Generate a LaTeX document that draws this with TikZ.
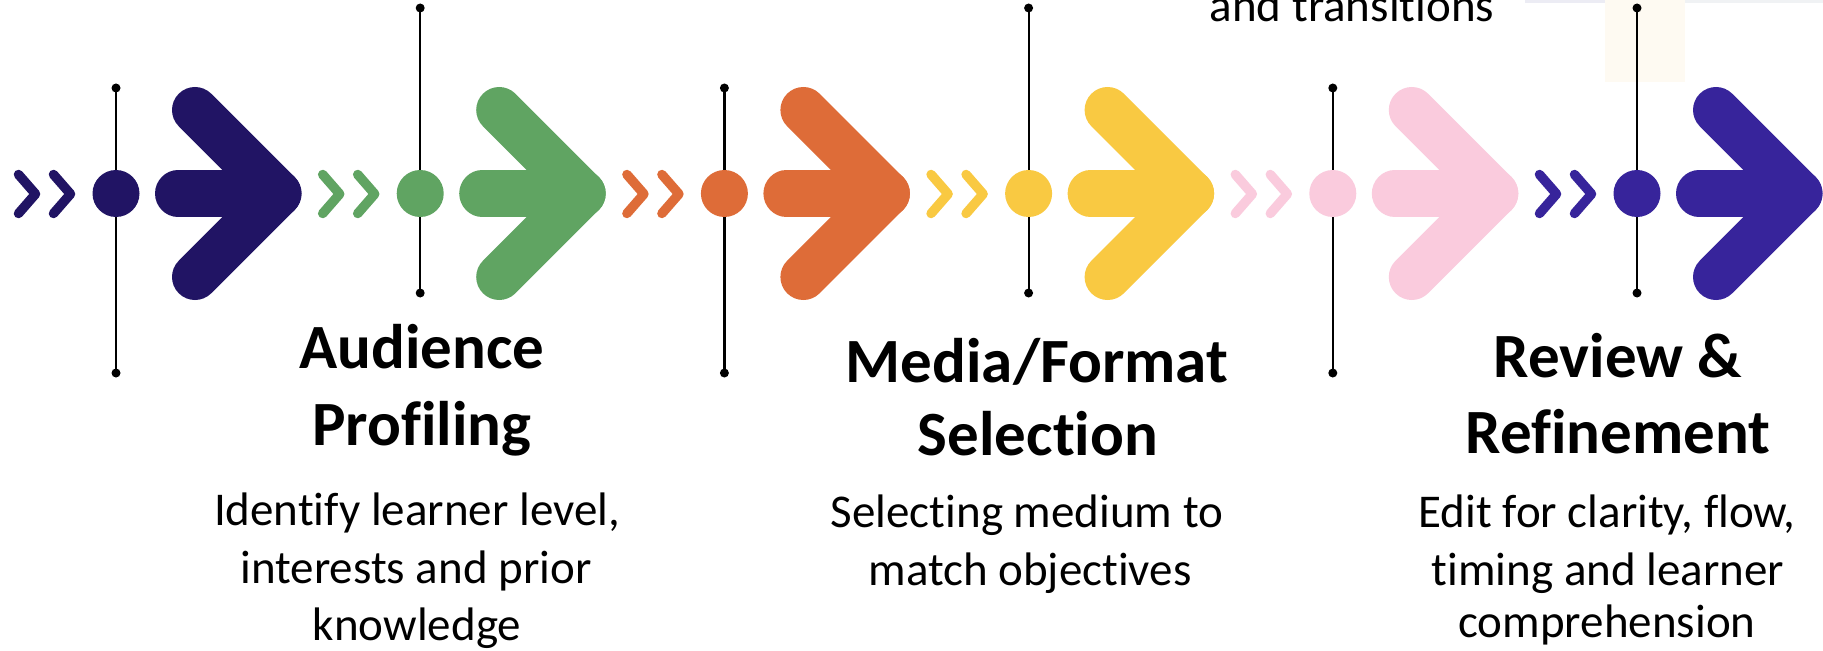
\documentclass[tikz,border=0pt]{standalone}
\usepackage{fontspec}
\setmainfont{Carlito}[Ligatures={NoCommon}]
\definecolor{cNavy}{RGB}{33,20,100}
\definecolor{cGreen}{RGB}{96,164,98}
\definecolor{cOrange}{RGB}{222,108,56}
\definecolor{cYellow}{RGB}{249,201,66}
\definecolor{cPink}{RGB}{250,203,221}
\definecolor{cIndigo}{RGB}{55,36,155}
\definecolor{cStripA}{RGB}{236,236,244}
\definecolor{cStripB}{RGB}{240,242,244}
\definecolor{cBeige}{RGB}{254,250,242}
\tikzset{
  bigdot/.style={circle, fill=#1, minimum size=47bp, inner sep=0pt},
  enddot/.style={circle, fill=black, minimum size=9bp, inner sep=0pt},
  vline/.style={line width=2.2bp, black},
  chev/.style={line width=9.5bp, line cap=round, line join=round, draw=#1},
  shaft/.style={line width=46bp, line cap=round, draw=#1},
  head/.style={line width=46bp, line cap=round, line join=round, draw=#1},
  htext/.style={anchor=base, inner sep=0pt, font=\fontsize{63bp}{76bp}\selectfont\bfseries},
  dtext/.style={anchor=base, inner sep=0pt, font=\fontsize{47bp}{58bp}\selectfont},
}
\begin{document}
\begin{tikzpicture}[x=1bp, y=-1bp]
\useasboundingbox (0,0) rectangle (1823,651);
\clip (0,0) rectangle (1823,651);
\fill[white] (0,0) rectangle (1823,651);
% faint remnants at the top right
\fill[cStripA] (1525,0) rectangle (1605,3);
\fill[cBeige] (1605,0) rectangle (1685,82);
\fill[cStripB] (1685,0) rectangle (1823,3);

\foreach \i/\c/\t/\b in {0/cNavy/88/373, 1/cGreen/8/293, 2/cOrange/88/373, 3/cYellow/8/293, 4/cPink/88/373, 5/cIndigo/8/293}{
  \pgfmathsetmacro{\cx}{116+304.2*\i}
  \node[enddot] (t\i) at (\cx,\t) {};
  \node[enddot] (b\i) at (\cx,\b) {};
  \draw[vline] (t\i.center) -- (b\i.center);
  \node[bigdot=\c] (d\i) at (\cx,193.5) {};
  \draw[chev=\c] ({\cx-97.5},174.5) -- ({\cx-80.5},194) -- ({\cx-97.5},213.5);
  \draw[chev=\c] ({\cx-62.5},174.5) -- ({\cx-45.5},194) -- ({\cx-62.5},213.5);
  \draw[shaft=\c] ({\cx+62},193.5) -- ({\cx+162.5},193.5);
  \draw[head=\c] ({\cx+79},110) -- ({\cx+162.5},193.5) -- ({\cx+79},277);
}

% texts
\node[dtext] (top) at (1352,22) {and transitions};

\node[htext] (h1a) at (422,368) {Audience};
\node[htext] (h1b) at (422,445) {Profiling};
\node[dtext] (d1a) at (417,525) {Identify learner level,};
\node[dtext] (d1b) at (416,583) {interests and prior};
\node[dtext] (d1c) at (417,640) {knowledge};

\node[htext] (h2a) at (1037,382) {Media/Format};
\node[htext] (h2b) at (1038,455) {Selection};
\node[dtext] (d2a) at (1027,527) {Selecting medium to};
\node[dtext] (d2b) at (1030,585) {match objectives};

\node[htext] (h3a) at (1618,377) {Review \&};
\node[htext] (h3b) at (1618,453) {Refinement};
\node[dtext] (d3a) at (1607,527) {Edit for clarity, flow,};
\node[dtext] (d3b) at (1608,585) {timing and learner};
\node[dtext] (d3c) at (1607,637) {comprehension};
\end{tikzpicture}
\end{document}
